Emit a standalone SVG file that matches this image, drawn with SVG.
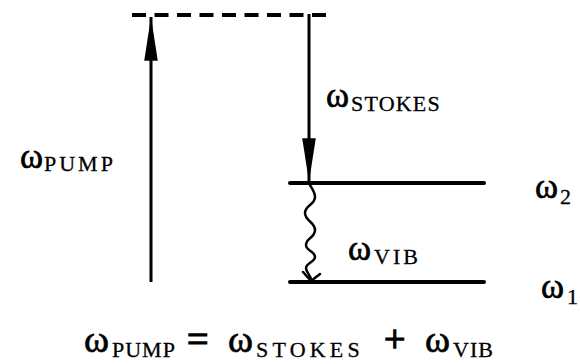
<svg xmlns="http://www.w3.org/2000/svg" width="580" height="364" viewBox="0 0 580 364">
<style>
  .bg { fill: #ffffff; }
  .level { stroke: #000; stroke-width: 4; stroke-linecap: round; fill: none; }
  .virtual { stroke: #000; stroke-width: 4; stroke-dasharray: 14 8.5; fill: none; }
  .arrow { stroke: #000; stroke-width: 3; fill: none; }
  .wave { stroke: #000; stroke-width: 2.5; fill: none; stroke-linejoin: round; stroke-linecap: round; }
  .w { font-family: "Liberation Serif", "Times New Roman", serif; font-size: 35px; fill: #000; stroke: #000; stroke-width: 0.7; }
  .sub { font-family: "Liberation Serif", "Times New Roman", serif; font-size: 22px; fill: #000; stroke: #000; stroke-width: 0.3; }
  .we { font-family: "Liberation Serif", "Times New Roman", serif; font-size: 38px; fill: #000; stroke: #000; stroke-width: 0.7; }
  .op { font-family: "Liberation Serif", "Times New Roman", serif; font-size: 38px; fill: #000; stroke: #000; stroke-width: 1.3; }
  .sube { font-family: "Liberation Serif", "Times New Roman", serif; font-size: 22px; fill: #000; stroke: #000; stroke-width: 0.3; }
</style>
<defs>
  <marker id="head" markerUnits="userSpaceOnUse" markerWidth="50" markerHeight="20" viewBox="-46 -8 48 16" refX="0" refY="0" orient="auto">
    <path d="M0,0 L-42,-6.5 L-42,6.5 Z" fill="#000"/>
  </marker>
</defs>
<rect class="bg" x="0" y="0" width="580" height="364"/>

<g id="level-virtual">
  <line class="virtual" x1="132" y1="15" x2="334" y2="15"/>
</g>
<g id="level-2">
  <line class="level" x1="290" y1="183" x2="484" y2="183"/>
  <text class="w" x="535" y="198">ω</text>
  <text class="sub" x="560" y="204">2</text>
</g>
<g id="level-1">
  <line class="level" x1="290" y1="282" x2="484" y2="282"/>
  <text class="w" x="541" y="298">ω</text>
  <text class="sub" x="567" y="304">1</text>
</g>

<g id="connectors">
  <g id="pump">
    <line class="arrow" x1="151" y1="282" x2="151" y2="17" marker-end="url(#head)"/>
    <text class="w" x="20" y="168">ω<tspan class="sub" x="44" y="171" letter-spacing="3">PUMP</tspan></text>
  </g>
  <g id="stokes">
    <line class="arrow" x1="309" y1="14" x2="309" y2="182" marker-end="url(#head)"/>
    <text class="w" x="326" y="107">ω<tspan class="sub" x="351" y="111" letter-spacing="1.2">STOKES</tspan></text>
  </g>
  <g id="vib">
    <path class="wave" d="M310,185 C312,189 315,192 315,197 C315,205 305,205 305,213 C305,221 315,222 315,230 C315,238 306,238 306,245 C306,251 315,251 315,257 C315,262 306,263 306,268 C306,273 311,275 311,280"/>
    <polyline class="wave" points="303,272 311,281 320,274"/>
    <text class="w" x="348" y="260">ω<tspan class="sub" x="374" y="264" letter-spacing="3">VIB</tspan></text>
  </g>
</g>

<g id="equation">
  <text class="we" x="84" y="352">ω<tspan class="sube" x="112" y="357" letter-spacing="1">PUMP</tspan><tspan class="op" x="187" y="352">=</tspan><tspan class="we" x="228" y="352">ω</tspan><tspan class="sube" x="256" y="357" letter-spacing="4.2">STOKES</tspan><tspan class="op" x="384" y="352">+</tspan><tspan class="we" x="425" y="352">ω</tspan><tspan class="sube" x="453" y="357" letter-spacing="1">VIB</tspan></text>
</g>
</svg>
